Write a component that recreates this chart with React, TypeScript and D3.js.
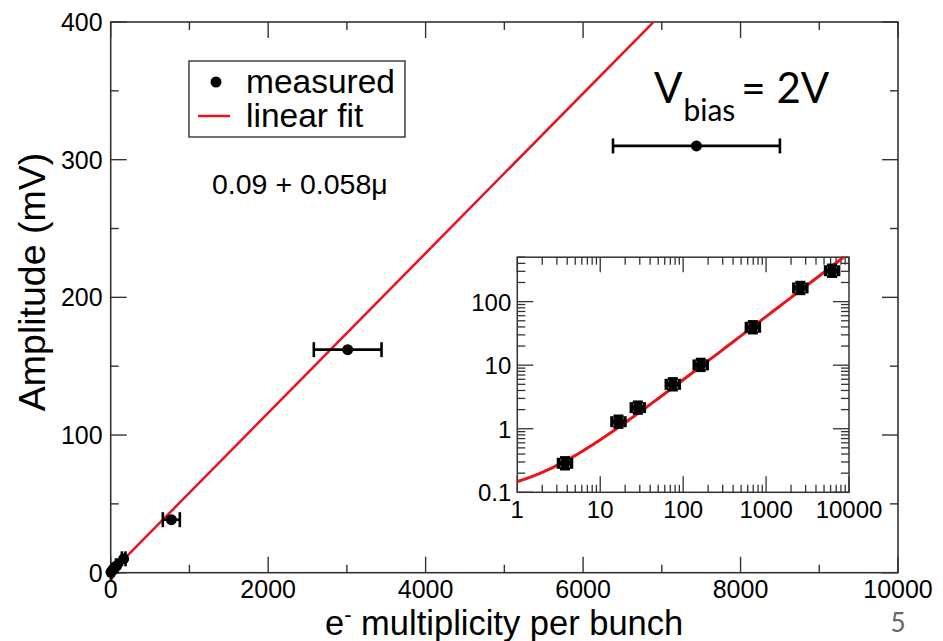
import React from "react";
import * as d3 from "d3";

// ---- data ----
const multiplicity = [3.8, 17, 29, 76, 165, 770, 3010, 7440];
const multiplicityErr = [0.5, 2.3, 4, 10, 23, 108, 430, 1060];
const amplitude = [0.29, 1.3, 2.15, 5.0, 10.1, 38.5, 162, 310];
const insetMultiplicity = [3.76, 16.6, 28.4, 75, 163, 693, 2588, 6252];
const insetAmplitude = [0.286, 1.29, 2.15, 5.0, 10.1, 39.5, 164, 306];
const fitIntercept = 0.09;
const fitSlope = 0.058;
const xTicks = [0, 2000, 4000, 6000, 8000, 10000];
const xMinor = [1000, 3000, 5000, 7000, 9000];
const yTicks = [0, 100, 200, 300, 400];
const yMinor = [50, 150, 250, 350];
const insetXTicks = [1, 10, 100, 1000, 10000];
const insetYTicks = [0.1, 1, 10, 100];
const legendLabels = ["measured", "linear fit"];
const fitLabel = "0.09 + 0.058μ";

const W = 943, H = 641;
const FONT = "'Liberation Sans', Arial, Helvetica, sans-serif";
const FRAME = "#333";

export default function App() {
  const x = d3.scaleLinear().domain([0, 10000]).range([110.7, 898]);
  const y = d3.scaleLinear().domain([0, 400]).range([572.7, 22]);
  const ix = d3.scaleLog().domain([1, 10000]).range([517.3, 849]);
  const iy = d3.scaleLog().domain([0.1, 500]).range([492.3, 257.2]);

  const fitFn = (m: number) => fitIntercept + fitSlope * m;
  const mainLine = d3.line<number>().x((m) => x(m)).y((m) => y(fitFn(m)));
  const mainFitPts = [0, 10000];

  const logSamples = d3.range(0, 4.001, 0.02).map((e) => Math.pow(10, e));
  const insetLine = d3.line<number>().x((m) => ix(m)).y((m) => iy(fitFn(m)));

  const [x0, x1] = x.range();
  const [y0, y1] = y.range();
  const [ix0, ix1] = ix.range();
  const [iy0, iy1] = iy.range();

  const insetMinorX: number[] = [];
  for (let dec = 1; dec < 10000; dec *= 10)
    for (let k = 2; k <= 9; k++) insetMinorX.push(dec * k);
  const insetMinorY: number[] = [];
  for (let dec = 0.1; dec < 500; dec *= 10)
    for (let k = 2; k <= 9; k++) if (dec * k <= 500) insetMinorY.push(dec * k);

  return (
    <svg
      width={W}
      height={H}
      style={{ position: "absolute", left: 0, top: 0, background: "#fff" }}
      fontFamily={FONT}
    >
      <defs>
        <clipPath id="mainClip">
          <rect x={x0} y={y1} width={x1 - x0} height={y0 - y1} />
        </clipPath>
        <clipPath id="insetClip">
          <rect x={ix0} y={iy1} width={ix1 - ix0} height={iy0 - iy1} />
        </clipPath>
      </defs>

      {/* main frame */}
      <rect x={x0} y={y1} width={x1 - x0} height={y0 - y1} fill="none" stroke={FRAME} strokeWidth={1.6} />
      {xTicks.map((t) => (
        <g key={"xt" + t}>
          <line x1={x(t)} x2={x(t)} y1={y0} y2={y0 - 16} stroke={FRAME} strokeWidth={1.4} />
          <line x1={x(t)} x2={x(t)} y1={y1} y2={y1 + 16} stroke={FRAME} strokeWidth={1.4} />
          <text x={x(t)} y={y0 + 25.5} textAnchor="middle" fontSize={25} fill="#000">{t}</text>
        </g>
      ))}
      {xMinor.map((t) => (
        <g key={"xm" + t}>
          <line x1={x(t)} x2={x(t)} y1={y0} y2={y0 - 8} stroke={FRAME} strokeWidth={1.4} />
          <line x1={x(t)} x2={x(t)} y1={y1} y2={y1 + 8} stroke={FRAME} strokeWidth={1.4} />
        </g>
      ))}
      {yTicks.map((t) => (
        <g key={"yt" + t}>
          <line x1={x0} x2={x0 + 16} y1={y(t)} y2={y(t)} stroke={FRAME} strokeWidth={1.4} />
          <line x1={x1} x2={x1 - 16} y1={y(t)} y2={y(t)} stroke={FRAME} strokeWidth={1.4} />
          <text x={x0 - 8} y={y(t) + 9} textAnchor="end" fontSize={25} fill="#000">{t}</text>
        </g>
      ))}
      {yMinor.map((t) => (
        <g key={"ym" + t}>
          <line x1={x0} x2={x0 + 8} y1={y(t)} y2={y(t)} stroke={FRAME} strokeWidth={1.4} />
          <line x1={x1} x2={x1 - 8} y1={y(t)} y2={y(t)} stroke={FRAME} strokeWidth={1.4} />
        </g>
      ))}

      {/* axis titles */}
      <text x={325} y={635} fontSize={34.5} fill="#000">
        e<tspan fontSize={22} dy={-13}>-</tspan>
        <tspan dy={13}> multiplicity per bunch</tspan>
      </text>
      <text transform="translate(45,282) rotate(-90)" textAnchor="middle" fontSize={37.5} fill="#000">
        Amplitude (mV)
      </text>

      {/* main fit line */}
      <path d={mainLine(mainFitPts) || ""} fill="none" stroke="#e8141b" strokeWidth={2.5} clipPath="url(#mainClip)" />

      {/* main data */}
      {multiplicity.map((m, i) => {
        const cx = x(m), cy = y(amplitude[i]);
        const xl = x(m - multiplicityErr[i]), xr = x(m + multiplicityErr[i]);
        return (
          <g key={"p" + i}>
            <line x1={xl} x2={xr} y1={cy} y2={cy} stroke="#000" strokeWidth={2.6} />
            <line x1={xl} x2={xl} y1={cy - 7.5} y2={cy + 7.5} stroke="#000" strokeWidth={2.6} />
            <line x1={xr} x2={xr} y1={cy - 7.5} y2={cy + 7.5} stroke="#000" strokeWidth={2.6} />
            <circle cx={cx} cy={cy} r={5.5} fill="#000" />
          </g>
        );
      })}

      {/* legend */}
      <rect x={189} y={61} width={216} height={76} fill="#fff" stroke={FRAME} strokeWidth={1.4} />
      <circle cx={216} cy={82} r={5.5} fill="#000" />
      <text x={246} y={93} fontSize={33.5} fill="#000">{legendLabels[0]}</text>
      <line x1={198} x2={230} y1={116} y2={116} stroke="#e8141b" strokeWidth={2.5} />
      <text x={246} y={127} fontSize={33.5} fill="#000">{legendLabels[1]}</text>

      <text x={212} y={194} fontSize={28.5} fill="#000">{fitLabel}</text>

      {/* V_bias */}
      <text x={654} y={103} fontSize={42} fill="#000" fontFamily="Lato, 'Open Sans', sans-serif">
        V<tspan fontSize={30} dy={18} dx={1}>bias</tspan>
        <tspan dy={-18} dx={6}>= 2V</tspan>
      </text>

      {/* page number */}
      <text x={898} y={632} textAnchor="middle" fontSize={26} fill="#666" fontFamily="Lato, 'Open Sans', sans-serif">5</text>

      {/* inset */}
      <rect x={ix0} y={iy1} width={ix1 - ix0} height={iy0 - iy1} fill="#fff" stroke={FRAME} strokeWidth={1.5} />
      {insetXTicks.map((t) => (
        <g key={"ixt" + t}>
          <line x1={ix(t)} x2={ix(t)} y1={iy0} y2={iy0 - 16} stroke={FRAME} strokeWidth={1.3} />
          <line x1={ix(t)} x2={ix(t)} y1={iy1} y2={iy1 + 15} stroke={FRAME} strokeWidth={1.3} />
          <text x={ix(t)} y={iy0 + 26} textAnchor="middle" fontSize={24} fill="#000">{t}</text>
        </g>
      ))}
      {insetMinorX.map((t) => (
        <g key={"ixm" + t}>
          <line x1={ix(t)} x2={ix(t)} y1={iy0} y2={iy0 - 7.5} stroke={FRAME} strokeWidth={1.3} />
          <line x1={ix(t)} x2={ix(t)} y1={iy1} y2={iy1 + 7.5} stroke={FRAME} strokeWidth={1.3} />
        </g>
      ))}
      {insetYTicks.map((t) => (
        <g key={"iyt" + t}>
          <line x1={ix0} x2={ix0 + 16} y1={iy(t)} y2={iy(t)} stroke={FRAME} strokeWidth={1.3} />
          <line x1={ix1} x2={ix1 - 16} y1={iy(t)} y2={iy(t)} stroke={FRAME} strokeWidth={1.3} />
          <text x={ix0 - 6} y={iy(t) + 9} textAnchor="end" fontSize={24} fill="#000">{t}</text>
        </g>
      ))}
      {insetMinorY.map((t) => (
        <g key={"iym" + t}>
          <line x1={ix0} x2={ix0 + 8} y1={iy(t)} y2={iy(t)} stroke={FRAME} strokeWidth={1.3} />
          <line x1={ix1} x2={ix1 - 8} y1={iy(t)} y2={iy(t)} stroke={FRAME} strokeWidth={1.3} />
        </g>
      ))}
      <path d={insetLine(logSamples) || ""} fill="none" stroke="#e8141b" strokeWidth={3} clipPath="url(#insetClip)" />
      {insetMultiplicity.map((m, i) => {
        const cx = ix(m), cy = iy(insetAmplitude[i]);
        const xl = ix(m / 1.2), xr = ix(m * 1.2);
        const yt = iy(insetAmplitude[i] * 1.22), yb = iy(insetAmplitude[i] / 1.22);
        return (
          <g key={"ip" + i} stroke="#000" strokeWidth={3.4}>
            <line x1={xl} x2={xr} y1={cy} y2={cy} />
            <line x1={xl} x2={xl} y1={cy - 5.5} y2={cy + 5.5} />
            <line x1={xr} x2={xr} y1={cy - 5.5} y2={cy + 5.5} />
            <line x1={cx} x2={cx} y1={yt} y2={yb} />
            <line x1={cx - 5} x2={cx + 5} y1={yt} y2={yt} />
            <line x1={cx - 5} x2={cx + 5} y1={yb} y2={yb} />
            <circle cx={cx} cy={cy} r={5.5} fill="#000" stroke="none" />
          </g>
        );
      })}
    </svg>
  );
}
